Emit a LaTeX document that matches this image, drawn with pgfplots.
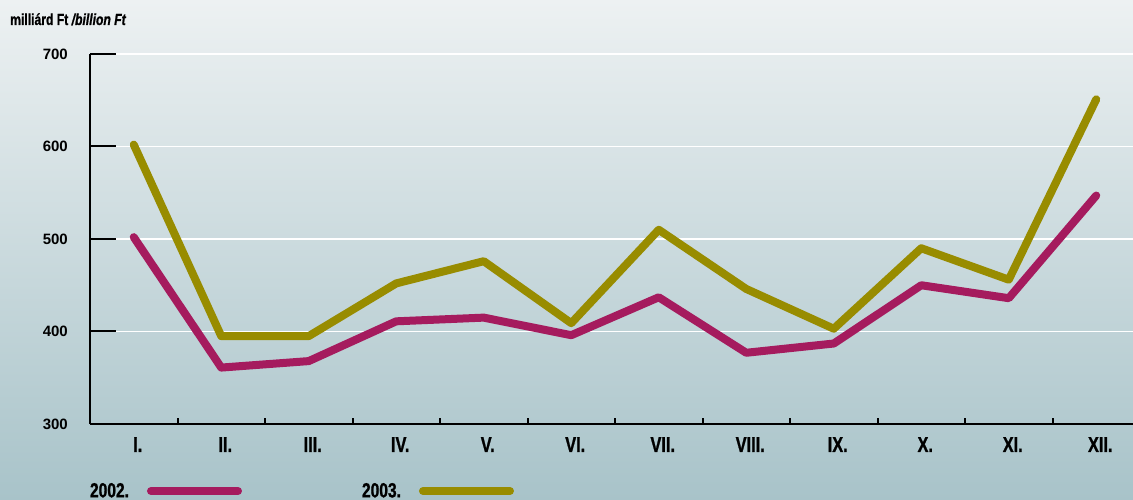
\documentclass[border=0pt]{standalone}
\usepackage{pgfplots}
\pgfplotsset{compat=1.18}
\usepackage{fontspec}
\setmainfont{Liberation Sans}
\newfontfamily\cond{Liberation Sans}[FakeStretch=0.76, FakeBold=1]
\definecolor{c02}{RGB}{165,27,94}
\definecolor{c03}{RGB}{152,140,0}
\definecolor{bgtop}{RGB}{237,241,242}
\definecolor{bgbot}{RGB}{168,195,201}
\begin{document}
\begin{tikzpicture}[x=1pt,y=1pt]
\useasboundingbox (0,0) rectangle (1133,500);
\shade[top color=bgtop, bottom color=bgbot] (0,0) rectangle (1133,500);
\node[anchor=base west, inner sep=0pt, font=\cond\bfseries\fontsize{16}{18}\selectfont] at (10,475) {milliárd Ft \textit{/billion Ft}};
\begin{axis}[
  at={(90pt,76pt)}, anchor=south west,
  scale only axis, width=1043pt, height=370pt,
  xmin=0.5, xmax=12.42, ymin=300, ymax=700,
  axis x line*=bottom, axis y line*=left,
  axis line style={-, black, line width=2pt},
  ytick={300,400,...,700},
  xtick={1,...,12},
  xticklabels={I.,II.,III.,IV.,V.,VI.,VII.,VIII.,IX.,X.,XI.,XII.},
  minor xtick={1.5,2.5,...,11.5},
  tick style={black, line width=2pt},
  major x tick style={draw=none},
  tick align=inside,
  major tick length=26pt, minor tick length=6pt,
  ymajorgrids, grid style={white, line width=1.5pt},
  /pgf/number format/assume math mode=true,
  xticklabel style={font=\cond\bfseries\fontsize{21.5}{24}\selectfont, anchor=north, inner sep=0pt, yshift=-13pt, xshift=4pt},
  yticklabel style={font=\bfseries\fontsize{15}{17}\selectfont, anchor=east, inner sep=0pt, xshift=-22pt},
  legend style={at={(0,-0.181)}, anchor=west, draw=none, fill=none, inner sep=0pt, outer sep=0pt,
    legend columns=2, font=\cond\bfseries\fontsize{20.5}{23}\selectfont, nodes={inner sep=0pt},
    /tikz/every odd column/.append style={column sep=18pt},
    /tikz/every even column/.append style={column sep=120pt}},
  legend plot pos=right,
  legend image code/.code={\draw[#1, line cap=round] (4pt,0pt) -- (91pt,0pt);},
]
\addplot[c02, line width=8pt, line cap=round, line join=round] coordinates {
(1,502) (2,361) (3,368) (4,411) (5,415) (6,396) (7,437) (8,377) (9,387) (10,450) (11,436) (12,547)};
\addlegendentry{2002.}
\addplot[c03, line width=8pt, line cap=round, line join=round] coordinates {
(1,602) (2,395) (3,395) (4,452) (5,476) (6,409) (7,510) (8,446) (9,403) (10,490) (11,456) (12,651)};
\addlegendentry{2003.}
\end{axis}
\end{tikzpicture}
\end{document}
